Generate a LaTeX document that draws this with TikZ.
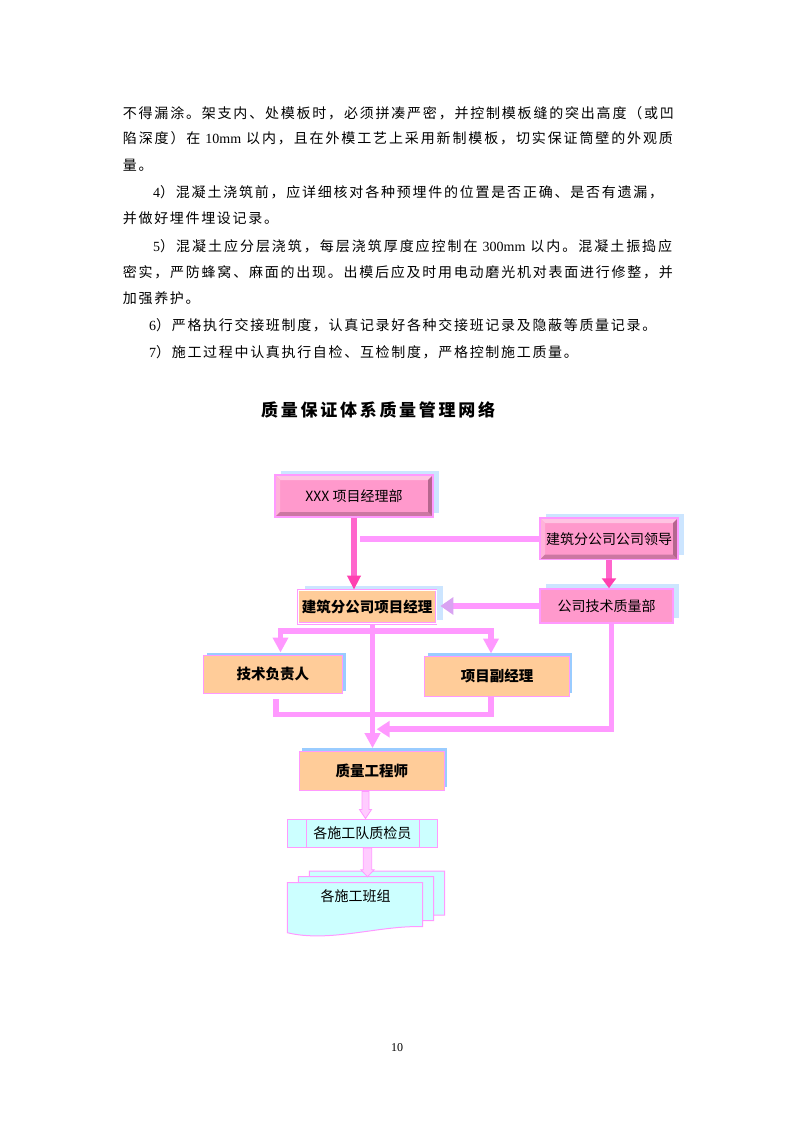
\documentclass[tikz,border=0pt]{standalone}
\usepackage{fontspec}
\setmainfont{Liberation Serif}
\newfontfamily\cjk[LetterSpace=12]{Noto Sans CJK SC}
\newfontfamily\cjkt[LetterSpace=16]{Noto Sans CJK SC}
\newfontfamily\cjkb{Noto Sans CJK SC}
\usetikzlibrary{arrows.meta,shadows,calc}
\chardef\cjkcls=200
\newcount\cjkcnt
\cjkcnt="3000
\loop \XeTeXcharclass\cjkcnt=\cjkcls \ifnum\cjkcnt<"303F \advance\cjkcnt 1 \repeat
\cjkcnt="4E00
\loop \XeTeXcharclass\cjkcnt=\cjkcls \ifnum\cjkcnt<"9FFF \advance\cjkcnt 1 \repeat
\cjkcnt="FF00
\loop \XeTeXcharclass\cjkcnt=\cjkcls \ifnum\cjkcnt<"FFEF \advance\cjkcnt 1 \repeat
\XeTeXinterchartoks\cjkcls\cjkcls={\hskip 0pt plus 1fil\relax}
\newcommand\latn[1]{{\rmfamily #1}}
\newcommand\jline[2]{{\XeTeXinterchartokenstate=1 \makebox[#1][s]{#2}}}
\definecolor{pinkface}{HTML}{FF99CC}
\definecolor{pinkb}{HTML}{FF99FF}
\definecolor{bevlight}{HTML}{FFC4E2}
\definecolor{bevleft}{HTML}{FFB3D9}
\definecolor{bevdark}{HTML}{CC77A3}
\definecolor{bevdarkr}{HTML}{B5668E}
\definecolor{peach}{HTML}{FFCC99}
\definecolor{shlt}{HTML}{CCE5FF}
\definecolor{shbl}{HTML}{99CCFF}
\definecolor{connc}{HTML}{FF99FF}
\definecolor{connd}{HTML}{FF66CC}
\definecolor{dtip}{HTML}{FF40B0}
\definecolor{cyanf}{HTML}{CCFFFF}
\definecolor{lpink}{HTML}{FFCCFF}
\definecolor{lav}{HTML}{D9A3F2}
\tikzset{
  bodyline/.style={anchor=base west, inner sep=0pt, font=\cjk\fontsize{14}{14}\selectfont},
  shad/.style n args={3}{drop shadow={shadow xshift=#1pt, shadow yshift=#2pt, fill=#3, opacity=1}},
  bevelpic/.style={path picture={
    \fill[bevlight] (path picture bounding box.north west) -- (path picture bounding box.north east) -- ([shift={(-5,5)}]path picture bounding box.north east) -- ([shift={(5,5)}]path picture bounding box.north west) -- cycle;
    \fill[bevleft] (path picture bounding box.north west) -- ([shift={(5,5)}]path picture bounding box.north west) -- ([shift={(5,-5)}]path picture bounding box.south west) -- (path picture bounding box.south west) -- cycle;
    \fill[bevdark] (path picture bounding box.south west) -- ([shift={(5,-5)}]path picture bounding box.south west) -- ([shift={(-5,-5)}]path picture bounding box.south east) -- (path picture bounding box.south east) -- cycle;
    \fill[bevdarkr] (path picture bounding box.south east) -- ([shift={(-5,-5)}]path picture bounding box.south east) -- ([shift={(-5,5)}]path picture bounding box.north east) -- (path picture bounding box.north east) -- cycle;
  }},
  bevbox/.style={rectangle, fill=pinkface, draw=pinkb, line width=1.5pt, bevelpic, inner sep=0pt, font=\cjkb\fontsize{14}{14}\selectfont},
  flatbox/.style={rectangle, fill=pinkface, draw=pinkb, line width=1.5pt, inner sep=0pt, font=\cjkb\fontsize{14}{14}\selectfont},
  peachbox/.style={rectangle, fill=peach, draw=pinkb, line width=1pt, inner sep=0pt, font=\cjkb\bfseries\fontsize{14.5}{14.5}\selectfont},
  peachD/.style={peachbox, line width=0.8pt, double=white, double distance=1pt},
  procbox/.style={rectangle, fill=cyanf, draw=connc, line width=1pt, inner sep=0pt, font=\cjkb\fontsize{14}{14}\selectfont,
    path picture={
      \draw[connc, line width=1pt] ([xshift=19.4pt]path picture bounding box.north west) -- ([xshift=19.4pt]path picture bounding box.south west);
      \draw[connc, line width=1pt] ([xshift=-18pt]path picture bounding box.north east) -- ([xshift=-18pt]path picture bounding box.south east);
    }},
  docshape/.style={fill=cyanf, draw=connc, line width=1pt},
  link/.style={draw=connc, line width=5.5pt, line join=miter},
  dlink/.style={draw=connd, line width=6pt},
  blk/.style={fill=lpink, draw=connc, line width=0.8pt, line join=miter},
  bigtip/.tip={Triangle[width=15pt,length=15pt]}
}
\begin{document}
\begin{tikzpicture}[x=1pt,y=-1pt]
\fill[white] (0,0) rectangle (794,1123);
\useasboundingbox (0,0) rectangle (794,1123);

% body text
\node[bodyline] (t1) at (122.7,118.3) {\jline{551pt}{不得漏涂。架支内、处模板时，必须拼凑严密，并控制模板缝的突出高度（或凹}};
\node[bodyline] (t2) at (122.7,143.8) {\jline{550pt}{陷深度）在\latn{\hspace*{5pt}10mm\hspace*{5pt}}以内，且在外模工艺上采用新制模板，切实保证筒壁的外观质}};
\node[bodyline] (t3) at (122.7,170.3) {量。};
\node[bodyline] (t4) at (153,197.3) {\jline{510pt}{\latn{4}）混凝土浇筑前，应详细核对各种预埋件的位置是否正确、是否有遗漏，}};
\node[bodyline] (t5) at (122.7,223.8) {并做好埋件埋设记录。};
\node[bodyline] (t6) at (153,251.3) {\jline{519pt}{\latn{5}）混凝土应分层浇筑，每层浇筑厚度应控制在\latn{\hspace*{5pt}300mm\hspace*{5pt}}以内。混凝土振捣应}};
\node[bodyline] (t7) at (122.7,277.3) {\jline{550pt}{密实，严防蜂窝、麻面的出现。出模后应及时用电动磨光机对表面进行修整，并}};
\node[bodyline] (t8) at (122.7,303.3) {加强养护。};
\node[bodyline] (t9) at (149,330.3) {\latn{6}）严格执行交接班制度，认真记录好各种交接班记录及隐蔽等质量记录。};
\node[bodyline] (t10) at (149,357.3) {\latn{7}）施工过程中认真执行自检、互检制度，严格控制施工质量。};

% title
\node[anchor=west, inner sep=0pt, font=\cjkt\bfseries\fontsize{17}{17}\selectfont] (title) at (261,410) {质量保证体系质量管理网络};

% boxes
\node[bevbox, shad={5.5}{4}{shlt}, minimum width=158pt, minimum height=42pt] (A) at (354,496) {XXX 项目经理部};
\node[bevbox, shad={6}{4.5}{shlt}, minimum width=138pt, minimum height=41.5pt] (B) at (609,538.8) {建筑分公司公司领导};
\node[flatbox, shad={5.5}{5}{shlt}, minimum width=133pt, minimum height=34pt] (C) at (606.5,606) {公司技术质量部};
\node[peachD, shad={7}{4}{shlt}, minimum width=138pt, minimum height=33.5pt] (D) at (367,606.8) {\raisebox{-4pt}{建筑分公司项目经理}};
\node[peachbox, shad={3.5}{2.5}{shbl}, minimum width=139.5pt, minimum height=38pt] (E) at (272.8,674) {技术负责人};
\node[peachbox, shad={3}{3}{shbl}, minimum width=144.5pt, minimum height=40pt] (F) at (497.2,676) {\raisebox{2.5pt}{项目副经理}};
\node[peachbox, shad={3}{3.5}{shbl}, minimum width=145pt, minimum height=39.3pt] (G) at (371.8,771.3) {\raisebox{3pt}{质量工程师}};
\node[procbox, minimum width=150pt, minimum height=28.3pt] (H) at (362.3,833.2) {各施工队质检员};

% multi-document stack
\foreach \dx/\dy in {22/-11.5, 11/-6, 0/0} {
  \begin{scope}[shift={(\dx,\dy)}]
    \filldraw[docshape] (287.3,882.7) -- (422.7,882.7) -- (422.7,926.7)
      .. controls (380,925) and (330,943) .. (287.3,932.7) -- cycle;
  \end{scope}
}
\node[inner sep=0pt, font=\cjkb\fontsize{14}{14}\selectfont] (I) at (355.5,896.5) {各施工班组};

% connectors
\draw[dlink, -{Triangle[width=13pt,length=14pt,color=dtip]}] (A.south) -- (A.south |- D.north);
\draw[dlink, -{Triangle[width=14pt,length=10pt,color=dtip]}] (B.south) -- (B.south |- C.north);
\coordinate (bfree) at (360,538.8);
\draw[link] (B.west) -- (bfree);
\draw[link, -{Triangle[width=17pt,length=13pt,color=lav]}, shorten >=4pt] (C.west) -- (C.west -| D.east);

\draw[link, -{bigtip}, shorten >=3pt] ([xshift=5.5pt]D.south) -- ([xshift=5.5pt]D.south |- G.north);
\coordinate (j1) at (280.5,631);
\coordinate (j2) at (491,631);
\draw[link, {bigtip}-{bigtip}, shorten <=2pt, shorten >=2pt] (j1 |- E.north) -- (j1) -- (j2) -- (j2 |- F.north);

\coordinate (u1) at (275.8,699);
\coordinate (u2) at (491,714.7);
\draw[link] (u1) -- (u1 |- u2) -- (u2) -- (u2 |- F.south);

\coordinate (c1) at (611.5,729.2);
\coordinate (c2) at (376.7,729.2);
\draw[link, -{Triangle[width=16pt,length=13pt]}] (C.south -| c1) -- (c1) -- (c2);

% block arrows
\coordinate (gh) at ([xshift=-6.3pt]G.south);
\coordinate (ghe) at (gh |- H.north);
\filldraw[blk] ($(gh)+(-3.5,0)$) -- ($(gh)+(3.5,0)$) -- ($(ghe)+(3.5,-9)$) -- ($(ghe)+(6,-9)$) -- (ghe) -- ($(ghe)+(-6,-9)$) -- ($(ghe)+(-3.5,-9)$) -- cycle;
\coordinate (hi) at ([xshift=5.2pt]H.south);
\coordinate (hie) at (367.5,876.7);
\filldraw[blk] ($(hi)+(-4.2,0)$) -- ($(hi)+(4.2,0)$) -- ($(hie)+(4.2,-7)$) -- ($(hie)+(6.7,-7)$) -- (hie) -- ($(hie)+(-6.7,-7)$) -- ($(hie)+(-4.2,-7)$) -- cycle;

% page number
\node[inner sep=0pt, font=\fontsize{12}{12}\selectfont] (pg) at (397,1048) {10};
\end{tikzpicture}
\end{document}
